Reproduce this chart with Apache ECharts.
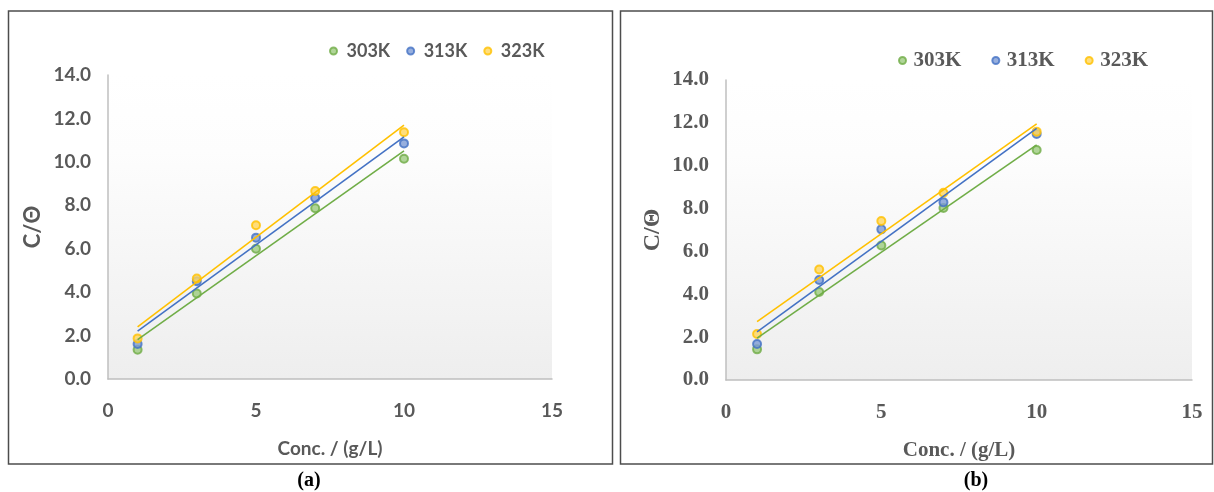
<!DOCTYPE html>
<html>
<head>
<meta charset="utf-8">
<script src="https://cdn.jsdelivr.net/npm/echarts@6/dist/echarts.min.js"></script>
<style>
html,body{margin:0;padding:0;background:#fff;}
#chart{width:1214px;height:492px;}
</style>
</head>
<body>
<div id="chart"></div>
<script>
// ---- data ----
const concentrations = [1, 3, 5, 7, 10];
const seriesNames = ['303K', '313K', '323K'];
const xTicks = [0, 5, 10, 15];
const yTicks = [0, 2, 4, 6, 8, 10, 12, 14];

// panel (a)
const panelA_303 = [1.35, 3.94, 6.00, 7.86, 10.14];
const panelA_313 = [1.61, 4.50, 6.51, 8.34, 10.85];
const panelA_323 = [1.87, 4.63, 7.08, 8.66, 11.36];
// panel (b)
const panelB_303 = [1.43, 4.11, 6.28, 8.03, 10.73];
const panelB_313 = [1.68, 4.67, 7.03, 8.29, 11.48];
const panelB_323 = [2.15, 5.16, 7.42, 8.74, 11.59];

// linear trend lines (end points)
const trendX = [1, 10];
const trendA_303 = [1.81, 10.51];
const trendA_313 = [2.20, 11.15];
const trendA_323 = [2.40, 11.69];
const trendB_303 = [1.95, 10.97];
const trendB_313 = [2.25, 11.74];
const trendB_323 = [2.72, 11.95];

const xTitle = 'Conc. / (g/L)';
const yTitle = 'C/Θ';
const captions = ['(a)', '(b)'];

// ---- styles ----
const colors = ['#70AD47', '#4472C4', '#FFC000'];
const fills = ['#9ccb7e', '#7d9bd6', '#ffd65c'];
const sansFont = 'Lato';
const serifFont = 'Liberation Serif';

function pairs(xs, ys) { return xs.map((x, i) => [x, ys[i]]); }

const chart = echarts.init(document.getElementById('chart'), null, {renderer: 'canvas'});

const bgGrad = new echarts.graphic.LinearGradient(0, 0, 0, 1, [
  {offset: 0, color: '#ffffff'},
  {offset: 0.25, color: '#fdfdfd'},
  {offset: 1, color: '#eeeeee'}
]);

function makeAxes(gridIndex, font, fs, nameFs, yNameFs, xNameGap, yNameGap) {
  const labelColor = '#595959';
  return {
    x: {
      type: 'value', gridIndex, min: 0, max: 15, interval: 5,
      axisLine: {show: true, lineStyle: {color: '#bfbfbf', width: 1.5}},
      axisTick: {show: false}, splitLine: {show: false},
      axisLabel: {color: labelColor, fontFamily: font, fontSize: fs, fontWeight: 'bold', margin: 22,
        formatter: v => xTicks.includes(v) ? String(v) : ''},
      name: xTitle, nameLocation: 'middle', nameGap: xNameGap,
      nameTextStyle: {color: labelColor, fontFamily: font, fontSize: nameFs, fontWeight: 'bold'}
    },
    y: {
      type: 'value', gridIndex, min: 0, max: 14, interval: 2,
      axisLine: {show: true, lineStyle: {color: '#bfbfbf', width: 1.5}},
      axisTick: {show: false}, splitLine: {show: false},
      axisLabel: {color: labelColor, fontFamily: font, fontSize: fs, fontWeight: 'bold', margin: 17,
        formatter: v => yTicks.includes(v) ? v.toFixed(1) : ''},
      name: yTitle, nameLocation: 'middle', nameGap: yNameGap,
      nameTextStyle: {color: labelColor, fontFamily: font, fontSize: yNameFs, fontWeight: 'bold'}
    }
  };
}

const axA = makeAxes(0, sansFont, 19, 19, 22, 60, 64);
const axB = makeAxes(1, serifFont, 21, 21, 24, 60, 61);

const panelData = [
  [panelA_303, panelA_313, panelA_323],
  [panelB_303, panelB_313, panelB_323]
];
const trendData = [
  [trendA_303, trendA_313, trendA_323],
  [trendB_303, trendB_313, trendB_323]
];

const series = [];
for (let p = 0; p < 2; p++) {
  for (let s = 0; s < 3; s++) {
    series.push({
      type: 'scatter', name: seriesNames[s], xAxisIndex: p, yAxisIndex: p,
      data: pairs(concentrations, panelData[p][s]),
      symbol: 'circle', symbolSize: 8,
      itemStyle: {color: fills[s], borderColor: colors[s], borderWidth: 2},
      z: 2
    });
  }
  for (let s = 0; s < 3; s++) {
    series.push({
      type: 'line', name: 'trend ' + seriesNames[s] + ' ' + p, xAxisIndex: p, yAxisIndex: p,
      data: pairs(trendX, trendData[p][s]),
      showSymbol: false, symbol: 'none', silent: true,
      lineStyle: {color: colors[s], width: 1.6},
      z: 3
    });
  }
}

const option = {
  animation: false,
  backgroundColor: '#ffffff',
  grid: [
    {left: 108, top: 75, width: 444, height: 304, show: true, backgroundColor: bgGrad, borderWidth: 0},
    {left: 726, top: 80, width: 466, height: 300, show: true, backgroundColor: bgGrad, borderWidth: 0}
  ],
  xAxis: [axA.x, axB.x],
  yAxis: [axA.y, axB.y],
  legend: [
    {
      left: 324, top: 37, itemWidth: 16, itemHeight: 7, itemGap: 16, icon: 'circle',
      data: seriesNames,
      textStyle: {color: '#595959', fontFamily: sansFont, fontSize: 18, fontWeight: 'bold'}
    },
    {
      left: 893, top: 45, itemWidth: 12, itemHeight: 7, itemGap: 30, icon: 'circle',
      data: seriesNames,
      textStyle: {color: '#595959', fontFamily: serifFont, fontSize: 21, fontWeight: 'bold'}
    }
  ],
  graphic: [
    {type: 'rect', shape: {x: 8.5, y: 11, width: 604, height: 453},
      style: {fill: null, stroke: '#4d4d4d', lineWidth: 1.5}, silent: true, z: 0},
    {type: 'rect', shape: {x: 620.5, y: 11, width: 592, height: 453},
      style: {fill: null, stroke: '#4d4d4d', lineWidth: 1.5}, silent: true, z: 0},
    {type: 'text', x: 309, y: 481, style: {text: captions[0], fill: '#000', font: 'bold 20px "Liberation Serif"',
      textAlign: 'center', textVerticalAlign: 'middle'}},
    {type: 'text', x: 976, y: 481, style: {text: captions[1], fill: '#000', font: 'bold 20px "Liberation Serif"',
      textAlign: 'center', textVerticalAlign: 'middle'}}
  ],
  series
};

chart.setOption(option);
</script>
</body>
</html>
